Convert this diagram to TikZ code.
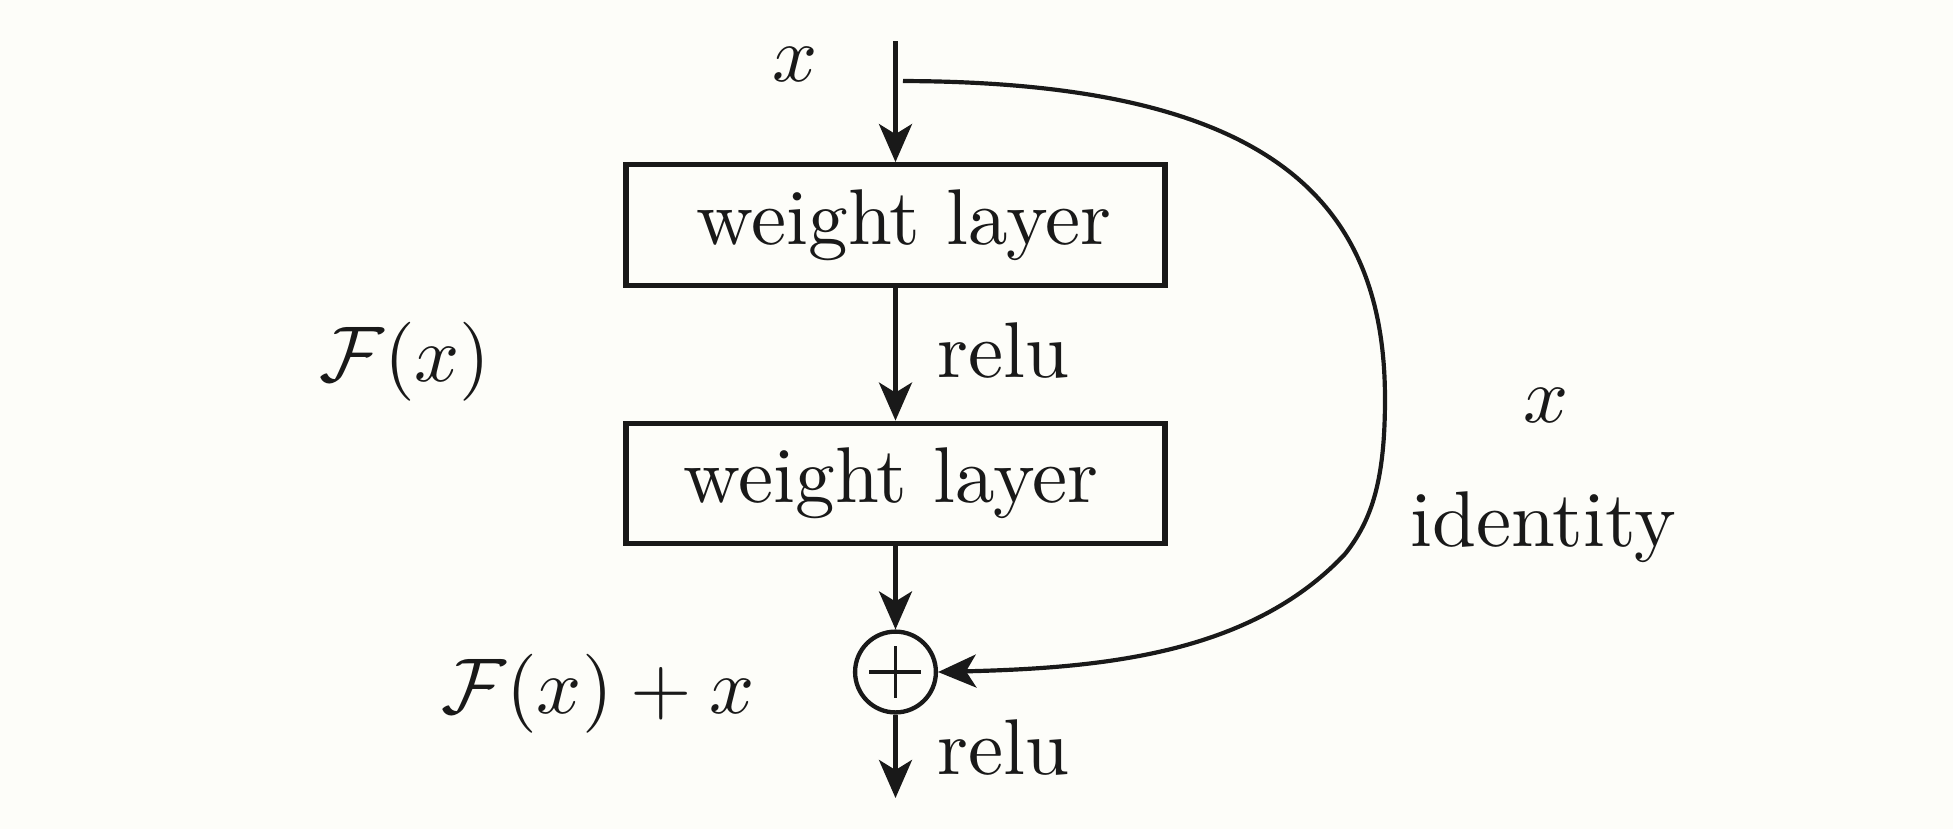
\documentclass[tikz,border=0pt]{standalone}
\usetikzlibrary{arrows.meta}
\definecolor{ink}{RGB}{25,25,25}
\definecolor{bg}{RGB}{253,253,249}
\begin{document}
\begin{tikzpicture}[x=0.1386pt,y=-0.1386pt,
  every node/.style={font=\fontsize{10.95}{13}\selectfont, text=ink},
  layerbox/.style={draw=ink, line width=0.74pt, minimum width=74.7pt, minimum height=16.7pt, inner sep=0pt},
  sumnode/.style={draw=ink, circle, line width=0.6pt, minimum size=11.2pt, inner sep=0pt},
  tip/.style={-{Stealth[length=5.27pt,width=4.57pt,inset=1.39pt]}},
  flow/.style={draw=ink, line width=0.6pt, tip},
  skipline/.style={draw=ink, line width=0.58pt, tip},
  plusline/.style={draw=ink, line width=0.45pt},
  lbl/.style={inner sep=0pt}
]
\fill[bg] (0,0) rectangle (1953,829);
\useasboundingbox (0,0) rectangle (1953,829);

\coordinate (in) at (895.5,41);
\coordinate (skip) at (903,81);
\coordinate (out) at (895.5,798);

\node[layerbox] (w1) at (895.5,225) {\hspace*{2.4pt}weight layer};
\node[layerbox] (w2) at (895.5,483.5) {weight layer\hspace*{1.2pt}};
\node[sumnode] (sum) at (895.5,672) {};
\draw[plusline] (sum.center) ++(-26,0) -- ++(52,0);
\draw[plusline] (sum.center) ++(0,-26) -- ++(0,52);

\draw[flow] (in) -- (w1.north);
\draw[flow] (w1.south) -- (w2.north);
\draw[flow] (w2.south) -- (sum.north);
\draw[flow] (sum.south) -- (out);

\draw[skipline] (skip) .. controls (1270,82) and (1385,200) .. (1385,399)
  .. controls (1385,480) and (1372,520) .. (1345,554)
  .. controls (1250,655) and (1100,668) .. (sum.east);

\node[lbl] (xin) at (795,64) {$x$};
\node[lbl] (relu1) at (1003,350) {relu};
\node[lbl] (fx) at (405,362) {$\mathcal{F}(x)$};
\node[lbl] (xid) at (1546,405) {$x$};
\node[lbl] (ident) at (1543,527) {identity};
\node[lbl] (fxx) at (598,694) {$\mathcal{F}(x) + x$};
\node[lbl] (relu2) at (1003,747) {relu};
\end{tikzpicture}
\end{document}
